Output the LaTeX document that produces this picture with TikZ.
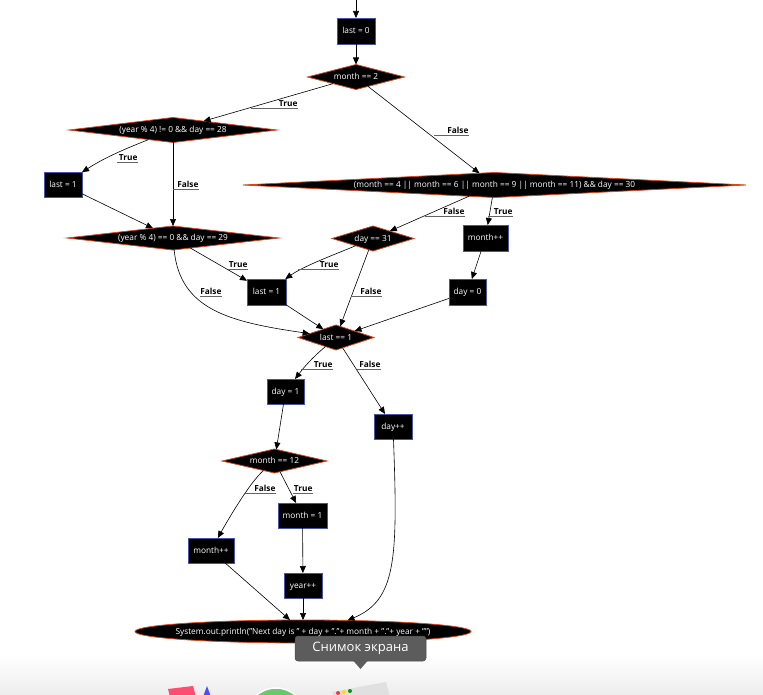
\documentclass[tikz,border=0pt]{standalone}
\usepackage{fontspec}
\setmainfont{Open Sans}
\usetikzlibrary{shapes.geometric,arrows.meta}
\newcommand\ctr[1]{\smash{\raisebox{-0.36em}{\makebox[0pt]{#1}}}}
\definecolor{dborder}{RGB}{214,72,30}
\definecolor{bborder}{RGB}{70,85,170}
\definecolor{ulgray}{RGB}{100,100,100}
\definecolor{tipgray}{RGB}{92,92,92}
\begin{document}
\begin{tikzpicture}[x=1pt,y=-1pt,
  every node/.style={font=\fontsize{8.3}{10}\selectfont, text=white, inner sep=0pt, outer sep=0pt},
  box/.style 2 args={rectangle, fill=black, draw=bborder, line width=0.8pt, minimum width=#1, minimum height=#2},
  dia/.style 2 args={diamond, fill=black, draw=dborder, line width=0.8pt, minimum width=#1, minimum height=#2},
  conn/.style={draw=black, line width=0.6pt, -{Triangle[length=7pt,width=6pt]}},
  lbl/.style={anchor=south east, text=black, font=\fontsize{8.3}{10}\selectfont\bfseries, inner xsep=0.5pt, inner ysep=1.5pt,
     append after command={([xshift=-#1pt]\tikzlastnode.south east) edge[draw=ulgray, line width=0.9pt] (\tikzlastnode.south east)}},
  tipbox/.style={rectangle, rounded corners=3pt, fill=tipgray, draw=black!70, line width=0.5pt, minimum width=131, minimum height=25, font=\fontsize{13}{15}\selectfont},
]
\useasboundingbox (0,0) rectangle (763,695);
\fill[white] (0,0) rectangle (763,695);
% dock background
\shade[top color=white, bottom color=black!7] (0,655) rectangle (763,695);
\begin{scope}
\clip (0,0) rectangle (763,695);
\fill[red!80!magenta!70] (168,689) -- (193,686) -- (196,697) -- (170,697) -- cycle;
\fill[blue!70] (203,697) -- (207,686) -- (211,697) -- cycle;
\filldraw[fill=green!45!gray!80, draw=white, line width=1.5pt] (276,718) circle (30);
\fill[black!12] (332,692) -- (386,682) -- (390,697) -- (334,697) -- cycle;
\fill[red!80] (338,693) circle (2);
\fill[yellow!80!orange] (344,692) circle (2);
\fill[green!60!black] (350,691) circle (2);
\end{scope}

% nodes
\coordinate (start) at (356,0);
\node[box={38}{26}] (last0) at (356,31) {\ctr{last = 0}};
\node[dia={97}{25}] (m2) at (356,77) {\ctr{month == 2}};
\node[dia={208}{25}] (d1) at (173,130) {\ctr{(year \% 4) != 0 \&\& day == 28}};
\node[box={38}{25}] (last1L) at (63,184.5) {\ctr{last = 1}};
\node[dia={212}{24}] (d2) at (173,238) {\ctr{(year \% 4) == 0 \&\& day == 29}};
\node[dia={503}{25}] (big) at (494.5,185) {\ctr{(month == 4 || month == 6 || month == 9 || month == 11) \&\& day == 30}};
\node[dia={82}{25}] (d31) at (373,238.5) {\ctr{day == 31}};
\node[box={45}{26}] (mpp) at (485.5,238) {\ctr{month++}};
\node[box={39}{26}] (last1M) at (266.5,292) {\ctr{last = 1}};
\node[box={37}{26}] (day0) at (467.5,292) {\ctr{day = 0}};
\node[dia={76}{25}] (l1) at (336,337.5) {\ctr{last == 1}};
\node[box={37}{25}] (day1) at (285.5,391.5) {\ctr{day = 1}};
\node[box={38}{25}] (dayinc) at (393,426.5) {\ctr{day++}};
\node[dia={105}{24}] (m12) at (274.5,461) {\ctr{month == 12}};
\node[box={49}{25}] (mone) at (302.5,515.5) {\ctr{month = 1}};
\node[box={46}{25}] (mppL) at (211,550.5) {\ctr{month++}};
\node[box={38}{25}] (yearpp) at (303,585.5) {\ctr{year++}};
\node[ellipse, fill=black, draw=dborder, line width=0.8pt, minimum width=336, minimum height=23] (ell) at (303,631.5)
  {\ctr{System.out.println("Next day is " + day + "."+ month + "."+ year + "")}};

% connectors
\draw[conn] (start) -- (last0);
\draw[conn] (last0) -- (m2);
\draw[conn] (m2) -- (d1);
\draw[conn] (m2) -- (big);
\draw[conn] (d1) .. controls (117,152) and (101,160) .. (last1L);
\draw[conn] (d1) -- (d2);
\draw[conn] (last1L) -- (d2);
\draw[conn] (d2) -- (last1M);
\draw[conn] (d2) .. controls (180,310) and (230,322) .. (l1);
\draw[conn] (big) -- (d31);
\draw[conn] (big) -- (mpp);
\draw[conn] (d31) .. controls (331,256) and (304,266) .. (last1M);
\draw[conn] (d31) -- (l1);
\draw[conn] (mpp) -- (day0);
\draw[conn] (day0) -- (l1);
\draw[conn] (last1M) -- (l1);
\draw[conn] (l1) .. controls (312,358) and (305,366) .. (day1);
\draw[conn] (l1) -- (dayinc);
\draw[conn] (day1) -- (m12);
\draw[conn] (m12) .. controls (249,483) and (225,525) .. (mppL);
\draw[conn] (m12) -- (mone);
\draw[conn] (mone) -- (yearpp);
\draw[conn] (mppL) -- (ell);
\draw[conn] (yearpp) -- (ell);
\draw[conn] (dayinc) .. controls (398,560) and (396,600) .. (ell.14);

% edge labels
\node[lbl=47] (t1) at (298,108) {True};
\node[lbl=35] (f1) at (469,135) {False};
\node[lbl=21] (t2) at (138,162) {True};
\node[lbl=26] (f2) at (199,189) {False};
\node[lbl=20] (t3) at (248,269) {True};
\node[lbl=22] (f3) at (222,296) {False};
\node[lbl=40] (f4) at (465,216) {False};
\node[lbl=25] (t4) at (513,216) {True};
\node[lbl=41] (t5) at (339,269) {True};
\node[lbl=31] (f5) at (382,296) {False};
\node[lbl=32] (t6) at (333,369) {True};
\node[lbl=24] (f6) at (381,369) {False};
\node[lbl=32] (f7) at (276,493) {False};
\node[lbl=20] (t7) at (313,493) {True};

% screenshot tooltip
\node[tipbox] (tip) at (360.5,648.5) {Снимок экрана};
\fill[tipgray] ([xshift=-7pt]tip.south) -- ([yshift=-8pt]tip.south) -- ([xshift=7pt]tip.south) -- cycle;
\end{tikzpicture}
\end{document}
